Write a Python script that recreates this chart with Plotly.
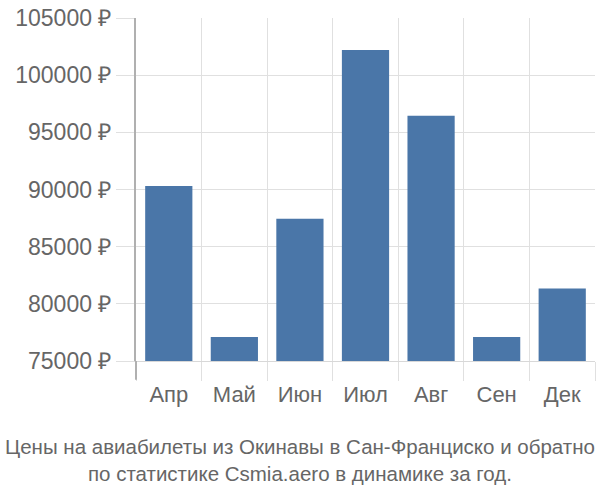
import plotly.graph_objects as go

months = ["Апр", "Май", "Июн", "Июл", "Авг", "Сен", "Дек"]
prices = [90300, 77100, 87450, 102200, 96450, 77100, 81350]
caption_lines = ["Цены на авиабилеты из Окинавы в Сан-Франциско и обратно",
                 "по статистике Csmia.aero в динамике за год."]

font = "Liberation Sans, Arial, sans-serif"
fig = go.Figure(go.Bar(x=months, y=prices, marker_color="#4a76a8",
                       marker_line_width=0))

fig.update_layout(
    width=600, height=500,
    margin=dict(l=136, r=5, t=14, b=139),
    plot_bgcolor="white", paper_bgcolor="white",
    bargap=0.28, showlegend=False,
    font=dict(family=font, size=21, color="#666666"),
)
fig.update_yaxes(range=[75000, 105000], dtick=5000, tickformat="d",
                 ticksuffix=" ₽", showgrid=True, gridcolor="#e0e0e0",
                 ticks="outside", ticklen=18, tickcolor="#e0e0e0",
                 showline=True, linecolor="#b0b0b0", linewidth=2,
                 zeroline=False, tickfont=dict(size=23, color="#666666"))
fig.update_xaxes(tickson="boundaries", showgrid=True, gridcolor="#e0e0e0",
                 ticks="outside", ticklen=19, tickcolor="#e0e0e0",
                 showline=True, linecolor="#d8d8d8", linewidth=1,
                 ticklabelstandoff=14,
                 tickfont=dict(size=22, color="#666666"))
fig.add_shape(type="line", xref="paper", yref="paper", x0=0, x1=0,
              y0=-19/347, y1=0, line=dict(color="#b0b0b0", width=2))
fig.add_annotation(text="<br>".join(caption_lines), xref="paper", yref="paper",
                   x=0.5, xanchor="center", y=-73/347, yanchor="top",
                   xshift=-66, showarrow=False,
                   font=dict(family=font, size=20.5, color="#666666"))
fig.write_html("out.html")
